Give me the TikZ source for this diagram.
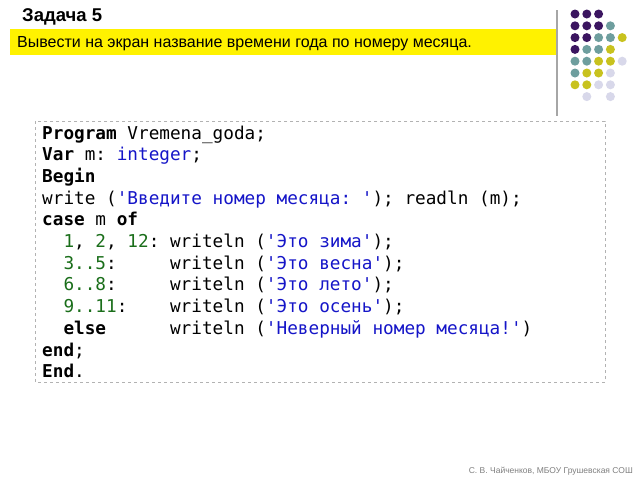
\documentclass[tikz,border=0pt]{standalone}
\usepackage{fontspec}
\setmainfont{Liberation Sans}
\setmonofont{DejaVu Sans Mono}
\definecolor{pp}{HTML}{3B1560}
\definecolor{tl}{HTML}{6E9E9E}
\definecolor{yl}{HTML}{C8C21E}
\definecolor{lv}{HTML}{D8D8EA}
\definecolor{gn}{HTML}{1A6E1A}
\definecolor{bl}{HTML}{1515C8}
\newcommand{\kw}[1]{\textbf{#1}}
\newcommand{\nm}[1]{\textcolor{gn}{#1}}
\newcommand{\st}[1]{\textcolor{bl}{#1}}
\begin{document}
\begin{tikzpicture}[x=1pt,y=-1pt,
  codeline/.style={anchor=base west,inner sep=0pt,font=\fontsize{17.7}{20}\ttfamily},
  dot/.style={circle,inner sep=0pt,minimum size=9pt}]
\useasboundingbox (0,0) rectangle (640,480);
\fill[white] (0,0) rectangle (640,480);
\node[anchor=base west,inner sep=0pt,font=\fontsize{18.5}{20}\selectfont\bfseries] (title) at (22,21) {Задача 5};
\fill[yellow] (10,29) rectangle (557,55);
\node[anchor=base west,inner sep=0pt,font=\fontsize{16}{18}\selectfont] (ban) at (17,47.5) {Вывести на экран название времени года по номеру месяца.};
\draw[gray!70,line width=2pt] (557,10) -- (557,116);
% dots
\foreach \r/\row in {0/{pp,pp,pp},1/{pp,pp,pp,tl},2/{pp,pp,tl,tl,yl},3/{pp,tl,tl,yl},4/{tl,tl,yl,yl,lv},5/{tl,yl,yl,lv},6/{yl,yl,lv,lv}}{
  \foreach \c [count=\i from 0] in \row {\node[dot,fill=\c] (d\r\i) at ({575+11.8*\i},{14+11.8*\r}) {};}}
\node[dot,fill=lv] (d71) at (586.8,96.6) {};
\node[dot,fill=lv] (d73) at (610.4,96.6) {};
\draw[gray!60,dashed,line width=0.8pt] (35,121) rectangle (605,382);
\def\lh{21.7}
\node[codeline] (l1) at (42,139) {\kw{Program} Vremena\_goda;};
\node[codeline] (l2) at (42,139+\lh) {\kw{Var} m: \st{integer};};
\node[codeline] (l3) at (42,139+2*\lh) {\kw{Begin}};
\node[codeline] (l4) at (42,139+3*\lh) {write (\st{'Введите номер месяца: '}); readln (m);};
\node[codeline] (l5) at (42,139+4*\lh) {\kw{case} m \kw{of}};
\node[codeline] (l6) at (42,139+5*\lh) {\ \ \nm{1}, \nm{2}, \nm{12}: writeln (\st{'Это зима'});};
\node[codeline] (l7) at (42,139+6*\lh) {\ \ \nm{3..5}:\ \ \ \ \ writeln (\st{'Это весна'});};
\node[codeline] (l8) at (42,139+7*\lh) {\ \ \nm{6..8}:\ \ \ \ \ writeln (\st{'Это лето'});};
\node[codeline] (l9) at (42,139+8*\lh) {\ \ \nm{9..11}:\ \ \ \ writeln (\st{'Это осень'});};
\node[codeline] (l10) at (42,139+9*\lh) {\ \ \kw{else}\ \ \ \ \ \ writeln (\st{'Неверный номер месяца!'})};
\node[codeline] (l11) at (42,139+10*\lh) {\kw{end};};
\node[codeline] (l12) at (42,139+11*\lh) {\kw{End}.};
\node[anchor=base east,inner sep=0pt,font=\fontsize{8.5}{10}\selectfont,text=gray] (foot) at (633,473) {С. В. Чайченков, МБОУ Грушевская СОШ};
\end{tikzpicture}
\end{document}
